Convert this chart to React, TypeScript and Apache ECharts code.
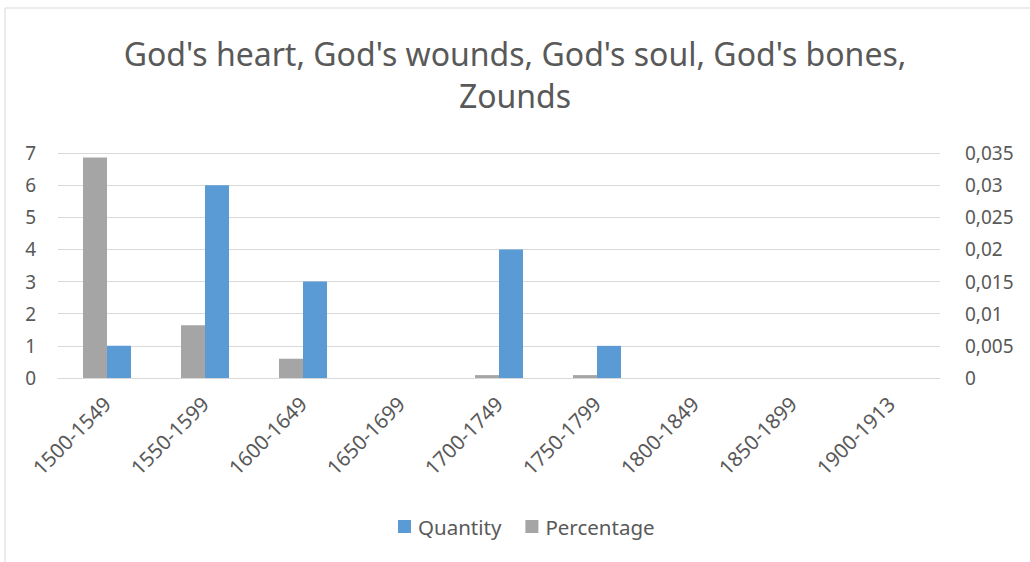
import React, { useEffect, useRef } from "react";
import * as echarts from "echarts";

const categories = ["1500-1549", "1550-1599", "1600-1649", "1650-1699", "1700-1749", "1750-1799", "1800-1849", "1850-1899", "1900-1913"];
const quantity = [1, 6, 3, 0, 4, 1, 0, 0, 0];
const percentage = [0.0343, 0.0082, 0.003, 0, 0.00045, 0.00045, 0, 0, 0];
const titleText = "God's heart, God's wounds, God's soul, God's bones,\nZounds";

export default function App() {
  const ref = useRef<HTMLDivElement>(null);
  useEffect(() => {
    const chart = echarts.init(ref.current!, null, { renderer: "svg" });
    const font = "Noto Sans";
    const txt = "#595959";
    chart.setOption({
      animation: false,
      textStyle: { fontFamily: font },
      title: {
        text: titleText,
        left: "center",
        top: 27,
        textStyle: { fontFamily: font, fontSize: 32, fontWeight: "normal", color: txt, lineHeight: 42 },
      },
      graphic: [
        {
          type: "rect",
          shape: { x: 5, y: 8, width: 1100, height: 700 },
          style: { fill: "none", stroke: "#d9d9d9", lineWidth: 1 },
          silent: true,
        },
      ],
      legend: {
        data: ["Quantity", "Percentage"],
        bottom: 20,
        left: 393,
        itemWidth: 13,
        itemHeight: 13,
        itemGap: 24,
        icon: "rect",
        textStyle: { fontFamily: font, fontSize: 20.5, color: txt, padding: [0, 0, 0, 2] },
      },
      grid: { left: 58, right: 90, top: 153, bottom: 184, containLabel: false },
      xAxis: {
        type: "category",
        data: categories,
        axisLine: { lineStyle: { color: "#d9d9d9" } },
        axisTick: { show: false },
        axisLabel: { rotate: 45, interval: 0, fontFamily: font, fontSize: 20.5, color: txt, margin: 22 },
      },
      yAxis: [
        {
          type: "value",
          min: 0,
          max: 7,
          interval: 1,
          axisLine: { show: false },
          axisTick: { show: false },
          splitLine: { lineStyle: { color: "#d9d9d9", width: 1 } },
          axisLabel: { fontFamily: font, fontSize: 19, color: txt, margin: 22 },
        },
        {
          type: "value",
          min: 0,
          max: 0.035,
          interval: 0.005,
          axisLine: { show: false },
          axisTick: { show: false },
          splitLine: { show: false },
          axisLabel: {
            fontFamily: font,
            fontSize: 19,
            color: txt,
            margin: 25,
            formatter: (v: number) => String(parseFloat(v.toFixed(4))).replace(".", ","),
          },
        },
      ],
      series: [
        {
          name: "Percentage",
          type: "bar",
          yAxisIndex: 1,
          data: percentage,
          itemStyle: { color: "#a5a5a5" },
          barGap: "0%",
          barCategoryGap: "51%",
        },
        {
          name: "Quantity",
          type: "bar",
          yAxisIndex: 0,
          data: quantity,
          itemStyle: { color: "#5b9bd5" },
          barGap: "0%",
          barCategoryGap: "51%",
        },
      ],
    });
    return () => chart.dispose();
  }, []);
  return <div ref={ref} style={{ position: "absolute", left: 0, top: 0, width: 1030, height: 562, background: "#fff" }} />;
}
